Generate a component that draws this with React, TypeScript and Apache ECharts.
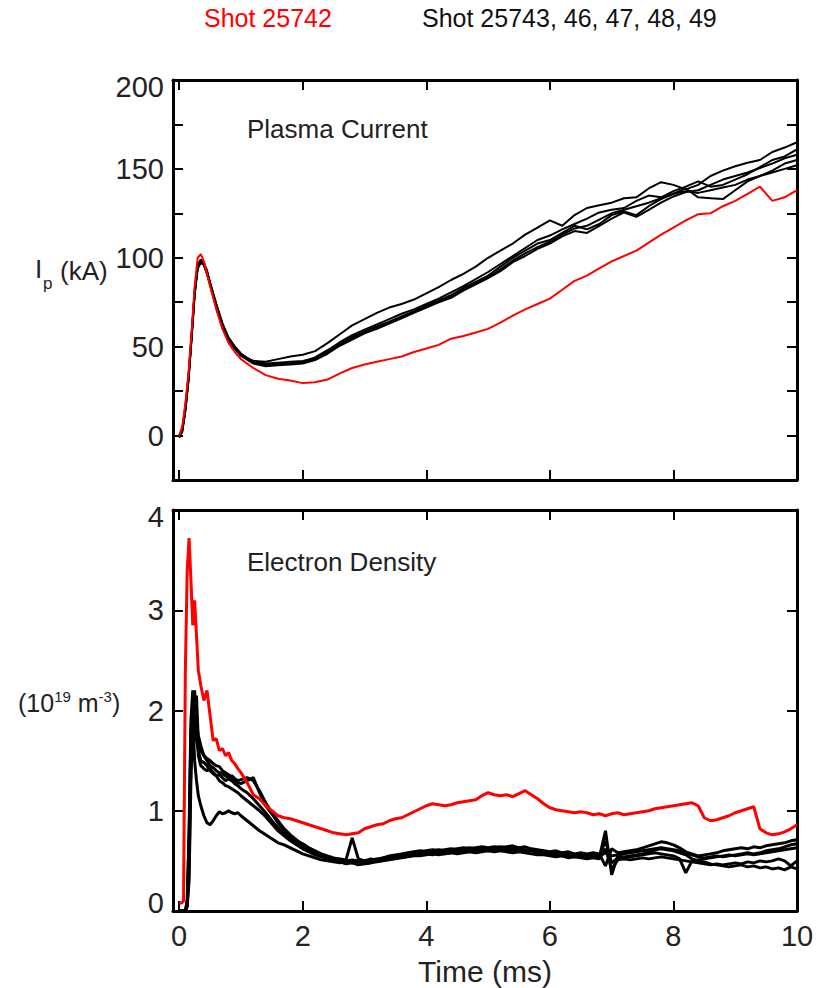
import React, { useEffect, useRef } from "react";
import * as echarts from "echarts";

// ---------- Plasma current (kA) ----------
const ipTime = [0, 0.05, 0.1, 0.15, 0.2, 0.25, 0.3, 0.35, 0.4, 0.45, 0.5, 0.6, 0.7, 0.8, 0.9, 1.0,
  1.2, 1.4, 1.6, 1.8, 2.0, 2.2, 2.4, 2.6, 2.8, 3.0, 3.2, 3.4, 3.6, 3.8, 4.0, 4.2, 4.4, 4.6, 4.8, 5.0,
  5.2, 5.4, 5.6, 5.8, 6.0, 6.2, 6.4, 6.6, 6.8, 7.0, 7.2, 7.4, 7.6, 7.8, 8.0, 8.2, 8.4, 8.6, 8.8, 9.0,
  9.2, 9.4, 9.6, 9.8, 10.0];

const ip25742 = [0, 5, 18, 35, 58, 84, 100, 102, 98, 91, 84, 71, 60, 52, 47, 43,
  38, 34, 32, 31, 29.5, 30, 31.5, 35, 38, 40, 41.5, 43, 44.5, 47, 49, 51, 54.5, 56, 58, 60,
  63.5, 67.5, 71, 74, 77, 82, 87, 90, 94, 98, 101, 104, 108.5, 113, 117, 121, 124.5, 125, 129, 132,
  136, 140, 132, 134, 138];
const ip25743 = [-1, 3, 15, 32, 55, 80, 95, 98, 96, 91, 85, 73, 62, 54, 49, 45,
  42, 41.5, 43, 44.5, 45.5, 47.5, 52, 57, 62, 65.5, 69, 72, 74, 76.5, 80, 83.5, 87.5, 91, 95, 100,
  104, 108, 113, 117, 121, 118, 124, 128, 129.5, 131, 133.5, 134, 139, 142.5, 141, 138.5, 141, 146, 149, 151.5,
  153.5, 155, 159.5, 162, 165];
const ip25746 = [-1, 3, 14, 31, 54, 79, 94, 97, 96, 92, 86, 74, 63, 55, 50, 46,
  41, 40, 40, 40.5, 41, 43, 47, 51.5, 55.5, 58.5, 61.5, 64, 67, 70, 73, 76, 79, 83, 86.5, 90,
  95, 100, 104, 108, 110, 114, 118, 116, 119, 124, 126, 124, 129, 133, 136, 139, 134, 133.5, 133, 138,
  143, 146, 148, 150, 152];
const ip25747 = [0, 4, 16, 33, 56, 81, 96, 99, 97, 92, 85, 72, 61, 54, 49, 45,
  40.5, 39, 39.5, 40, 40.5, 42.5, 46, 50.5, 54, 57.5, 60, 63, 66, 69, 72, 75, 77.5, 81.5, 85, 88.5,
  92.5, 97.5, 101, 105, 108, 112, 115, 114, 118, 122, 125.5, 123, 127, 131, 134.5, 137, 138, 141, 144, 146,
  148, 150.5, 153, 156, 158];
const ip25748 = [-1, 2, 14, 31, 55, 80, 95, 98, 97, 93, 86, 74, 63, 55, 50, 46,
  41.5, 39.5, 40, 40.5, 41.5, 44, 48, 52.5, 56.5, 59.5, 62.5, 65.5, 68.5, 71, 74, 77, 80.5, 84, 88, 92,
  96.5, 101, 105.5, 110, 112.5, 116, 119, 122, 125.5, 127, 128, 132, 135, 134, 137.5, 140, 143, 140, 141, 144,
  147, 151, 155, 157, 161];
const ip25749 = [0, 3, 15, 32, 56, 80, 95, 98, 96, 91, 85, 73, 62, 54, 49, 45,
  42, 40.5, 41, 41.5, 42, 43.5, 47.5, 51, 55, 58, 61, 63.5, 66.5, 69.5, 72.5, 75.5, 78, 82, 85.5, 89,
  93.5, 98.5, 102.5, 106, 109, 113, 116.5, 118, 121.5, 125, 127, 129, 131, 133.5, 136, 137.5, 136.5, 138, 139.5, 141,
  144, 146, 149, 153, 155];

// ---------- Electron density (10^19 m^-3) ----------
const neTime = [0, 0.04, 0.07, 0.1, 0.13, 0.16, 0.19, 0.22, 0.25, 0.28, 0.31, 0.35, 0.4, 0.45, 0.5,
  0.55, 0.6, 0.65, 0.7, 0.75, 0.8, 0.85, 0.9, 0.95, 1.0,
  1.1, 1.2, 1.3, 1.4, 1.5, 1.6, 1.7, 1.8, 1.9, 2.0,
  2.1, 2.2, 2.3, 2.4, 2.5, 2.6, 2.7, 2.8, 2.9, 3.0,
  3.1, 3.2, 3.3, 3.4, 3.5, 3.6, 3.7, 3.8, 3.9, 4.0,
  4.1, 4.2, 4.3, 4.4, 4.5, 4.6, 4.7, 4.8, 4.9, 5.0,
  5.1, 5.2, 5.3, 5.4, 5.5, 5.6, 5.7, 5.8, 5.9, 6.0,
  6.1, 6.2, 6.3, 6.4, 6.5, 6.6, 6.7, 6.8, 6.9, 7.0,
  7.1, 7.2, 7.3, 7.4, 7.5, 7.6, 7.7, 7.8, 7.9, 8.0,
  8.1, 8.2, 8.3, 8.4, 8.5, 8.6, 8.7, 8.8, 8.9, 9.0,
  9.1, 9.2, 9.3, 9.4, 9.5, 9.6, 9.7, 9.8, 9.9, 10.0];

const ne25742 = [0.08, 0.08, 0.1, 2.4, 3.4, 3.72, 3.3, 2.85, 3.1, 2.75, 2.4, 2.25, 2.1, 2.2, 1.95,
  1.7, 1.72, 1.6, 1.62, 1.55, 1.58, 1.5, 1.47, 1.42, 1.38,
  1.28, 1.16, 1.12, 1.05, 1.0, 0.95, 0.93, 0.92, 0.9, 0.88,
  0.86, 0.84, 0.82, 0.8, 0.78, 0.77, 0.76, 0.77, 0.78, 0.82,
  0.84, 0.86, 0.87, 0.9, 0.92, 0.93, 0.96, 0.99, 1.02, 1.05,
  1.07, 1.06, 1.05, 1.06, 1.08, 1.09, 1.1, 1.11, 1.15, 1.18,
  1.16, 1.15, 1.16, 1.14, 1.17, 1.2, 1.16, 1.12, 1.07, 1.03,
  1.01, 1.0, 0.99, 0.98, 0.99, 0.98, 0.96, 0.97, 0.95, 0.97,
  0.98, 0.96, 0.97, 0.98, 0.99, 1.0, 1.02, 1.03, 1.04, 1.05,
  1.06, 1.07, 1.08, 1.05, 0.93, 0.9, 0.91, 0.93, 0.95, 0.98,
  1.0, 1.02, 1.04, 0.82, 0.78, 0.76, 0.77, 0.79, 0.82, 0.86];
const ne25743 = [0, 0, 0, 0, 0.05, 0.3, 1.3, 1.9, 1.5, 1.3, 1.15, 1.05, 0.95, 0.88, 0.86,
  0.9, 0.95, 0.99, 0.97, 0.98, 1.0, 0.98, 0.97, 0.98, 0.95,
  0.9, 0.85, 0.8, 0.76, 0.72, 0.68, 0.66, 0.63, 0.6, 0.57,
  0.55, 0.53, 0.51, 0.5, 0.49, 0.48, 0.49, 0.5, 0.49, 0.5,
  0.51, 0.52, 0.53, 0.54, 0.53, 0.55, 0.56, 0.57, 0.56, 0.57,
  0.56, 0.58, 0.57, 0.58, 0.59, 0.6, 0.59, 0.6, 0.61, 0.6,
  0.61, 0.62, 0.61, 0.62, 0.61, 0.6, 0.61, 0.59, 0.58, 0.57,
  0.56, 0.55, 0.56, 0.54, 0.55, 0.54, 0.55, 0.53, 0.8, 0.36,
  0.55, 0.54, 0.55, 0.56, 0.57, 0.59, 0.61, 0.62, 0.61, 0.6,
  0.58, 0.56, 0.52, 0.5, 0.49, 0.47, 0.46, 0.45, 0.44, 0.45,
  0.46, 0.44, 0.45, 0.43, 0.44, 0.42, 0.43, 0.41, 0.44, 0.42];
const ne25746 = [0, 0, 0, 0, 0.1, 0.8, 1.9, 2.2, 1.8, 2.15, 1.7, 1.6, 1.55, 1.52, 1.5,
  1.47, 1.45, 1.44, 1.4, 1.38, 1.36, 1.33, 1.3, 1.28, 1.27,
  1.3, 1.33, 1.18, 1.05, 0.97, 0.88, 0.8, 0.74, 0.7, 0.67,
  0.63, 0.6, 0.57, 0.55, 0.53, 0.52, 0.51, 0.73, 0.52, 0.5,
  0.52, 0.51, 0.53, 0.55, 0.56, 0.57, 0.58, 0.59, 0.6, 0.59,
  0.6, 0.61, 0.6, 0.61, 0.62, 0.63, 0.62, 0.63, 0.64, 0.63,
  0.64, 0.63, 0.64, 0.65, 0.63, 0.64, 0.62, 0.61, 0.6, 0.59,
  0.6, 0.58, 0.59, 0.57, 0.58, 0.57, 0.58, 0.57, 0.45, 0.62,
  0.58, 0.59, 0.6, 0.61, 0.63, 0.65, 0.67, 0.69, 0.68, 0.66,
  0.63, 0.59, 0.57, 0.55, 0.56, 0.57, 0.58, 0.6, 0.61, 0.62,
  0.63, 0.62, 0.64, 0.63, 0.65, 0.66, 0.67, 0.68, 0.7, 0.71];
const ne25747 = [0, 0, 0, 0, 0.05, 0.6, 1.7, 2.0, 1.75, 1.9, 1.55, 1.45, 1.42, 1.4, 1.42,
  1.38, 1.35, 1.36, 1.33, 1.3, 1.32, 1.3, 1.27, 1.25, 1.22,
  1.18, 1.12, 1.05, 0.98, 0.9, 0.83, 0.77, 0.72, 0.68, 0.64,
  0.61, 0.58, 0.55, 0.53, 0.51, 0.5, 0.49, 0.48, 0.49, 0.47,
  0.48, 0.5, 0.51, 0.52, 0.54, 0.55, 0.56, 0.58, 0.57, 0.58,
  0.59, 0.58, 0.59, 0.6, 0.6, 0.61, 0.6, 0.61, 0.62, 0.61,
  0.62, 0.61, 0.6, 0.61, 0.6, 0.59, 0.6, 0.58, 0.57, 0.56,
  0.57, 0.56, 0.55, 0.56, 0.54, 0.55, 0.54, 0.55, 0.7, 0.48,
  0.53, 0.52, 0.54, 0.55, 0.56, 0.57, 0.58, 0.57, 0.56, 0.55,
  0.52, 0.38, 0.5, 0.51, 0.52, 0.53, 0.54, 0.55, 0.56, 0.55,
  0.56, 0.57, 0.56, 0.57, 0.58, 0.59, 0.6, 0.61, 0.62, 0.63];
const ne25748 = [0, 0, 0, 0, 0.05, 0.4, 1.5, 2.15, 2.0, 1.7, 1.6, 1.5, 1.48, 1.45, 1.4,
  1.37, 1.35, 1.3, 1.28, 1.25, 1.24, 1.22, 1.2, 1.18, 1.15,
  1.1, 1.05, 1.0, 0.94, 0.87, 0.8, 0.75, 0.7, 0.66, 0.62,
  0.59, 0.56, 0.54, 0.52, 0.5, 0.49, 0.47, 0.48, 0.46, 0.47,
  0.48, 0.49, 0.5, 0.51, 0.52, 0.53, 0.54, 0.55, 0.55, 0.56,
  0.57, 0.56, 0.57, 0.58, 0.57, 0.58, 0.59, 0.58, 0.59, 0.6,
  0.59, 0.6, 0.59, 0.58, 0.59, 0.58, 0.57, 0.56, 0.56, 0.55,
  0.54, 0.55, 0.53, 0.54, 0.53, 0.52, 0.53, 0.52, 0.62, 0.42,
  0.51, 0.52, 0.51, 0.52, 0.53, 0.52, 0.53, 0.54, 0.53, 0.52,
  0.51, 0.5, 0.49, 0.48, 0.47, 0.46, 0.47, 0.46, 0.47, 0.48,
  0.47, 0.49, 0.48, 0.5, 0.49, 0.5, 0.52, 0.5, 0.45, 0.5];
const ne25749 = [0, 0, 0, 0, 0.1, 0.7, 1.8, 2.05, 2.2, 1.85, 1.75, 1.65, 1.55, 1.5, 1.45,
  1.43, 1.4, 1.38, 1.37, 1.35, 1.33, 1.35, 1.32, 1.3, 1.31,
  1.33, 1.3, 1.2, 1.08, 0.98, 0.9, 0.82, 0.76, 0.71, 0.66,
  0.62, 0.59, 0.56, 0.54, 0.52, 0.51, 0.5, 0.51, 0.5, 0.49,
  0.5, 0.51, 0.52, 0.53, 0.55, 0.56, 0.57, 0.58, 0.59, 0.6,
  0.61, 0.6, 0.61, 0.62, 0.61, 0.62, 0.63, 0.62, 0.63, 0.62,
  0.63, 0.64, 0.63, 0.62, 0.62, 0.61, 0.6, 0.6, 0.59, 0.58,
  0.58, 0.57, 0.57, 0.56, 0.57, 0.56, 0.56, 0.55, 0.58, 0.55,
  0.56, 0.57, 0.58, 0.59, 0.6, 0.61, 0.62, 0.63, 0.62, 0.61,
  0.6, 0.58, 0.56, 0.54, 0.53, 0.54, 0.55, 0.54, 0.55, 0.56,
  0.57, 0.58, 0.57, 0.58, 0.6, 0.61, 0.62, 0.64, 0.66, 0.67];

const xTickValues = [0, 2, 4, 6, 8, 10];

const FONT = "'Liberation Sans', Arial, Helvetica, sans-serif";
const RED = "#ff0000";
const BLACK = "#000000";

function pairs(t: number[], v: number[]) {
  return t.map((x, i) => [x, v[i]]);
}

export default function App() {
  const ref = useRef<HTMLDivElement>(null);

  useEffect(() => {
    if (!ref.current) return;
    const chart = echarts.init(ref.current, null, { renderer: "svg" });

    const axisLine = { show: true, onZero: false, lineStyle: { color: "#000", width: 3 } };
    const tick = { show: true, inside: true, length: 10, lineStyle: { color: "#000", width: 2 } };

    const xAxisFor = (gridIndex: number, position: string, showLabel: boolean) => ({
      type: "value",
      gridIndex,
      position,
      min: -0.1,
      max: 10,
      axisLine,
      axisTick: { ...tick, customValues: xTickValues },
      axisLabel: {
        show: showLabel,
        customValues: xTickValues,
        fontSize: 29,
        color: "#222",
        fontFamily: FONT,
        margin: 10,
      },
      splitLine: { show: false },
    });

    const yIp = (position: string, showLabel: boolean) => ({
      type: "value",
      gridIndex: 0,
      position,
      min: -25,
      max: 200,
      interval: 25,
      axisLine,
      axisTick: tick,
      axisLabel: {
        show: showLabel,
        fontSize: 29,
        color: "#222",
        fontFamily: FONT,
        margin: 9,
        formatter: (v: number) => (v % 50 === 0 ? (v === 200 ? "{t|200}" : String(v)) : ""),
        rich: { t: { fontSize: 29, color: "#222", fontFamily: FONT, padding: [14, 0, 0, 0] } },
      },
      splitLine: { show: false },
    });

    const yNe = (position: string, showLabel: boolean) => ({
      type: "value",
      gridIndex: 1,
      position,
      min: 0,
      max: 4,
      interval: 1,
      axisLine,
      axisTick: tick,
      axisLabel: {
        show: showLabel,
        fontSize: 29,
        color: "#222",
        fontFamily: FONT,
        margin: 9,
        formatter: (v: number) => (v === 4 ? "{t|4}" : v === 0 ? "{b|0}" : String(v)),
        rich: {
          t: { fontSize: 29, color: "#222", fontFamily: FONT, padding: [14, 0, 0, 0] },
          b: { fontSize: 29, color: "#222", fontFamily: FONT, padding: [0, 0, 16, 0] },
        },
      },
      splitLine: { show: false },
    });

    const lineSeries = (name: string, data: number[][], color: string, axis: number, width: number) => ({
      name,
      type: "line",
      xAxisIndex: axis,
      yAxisIndex: axis,
      data,
      showSymbol: false,
      symbol: "none",
      lineStyle: { color, width },
      itemStyle: { color },
      emphasis: { disabled: true },
      z: color === RED ? 3 : 2,
    });

    const txt = (text: string, x: number, y: number, size: number, fill = "#222") => ({
      type: "text",
      x,
      y,
      style: { text, fill, fontSize: size, fontFamily: FONT, align: "left", verticalAlign: "middle" },
    });

    chart.setOption({
      animation: false,
      backgroundColor: "#ffffff",
      grid: [
        { left: 173, top: 80, width: 624, height: 400, outerBoundsMode: "none", containLabel: false },
        { left: 173, top: 510, width: 624, height: 401, outerBoundsMode: "none", containLabel: false },
      ],
      xAxis: [
        xAxisFor(0, "bottom", false),
        xAxisFor(0, "top", false),
        xAxisFor(1, "bottom", true),
        xAxisFor(1, "top", false),
      ],
      yAxis: [
        yIp("left", true),
        yIp("right", false),
        yNe("left", true),
        yNe("right", false),
      ],
      series: [
        lineSeries("Shot 25743", pairs(ipTime, ip25743), BLACK, 0, 2),
        lineSeries("Shot 25746", pairs(ipTime, ip25746), BLACK, 0, 2),
        lineSeries("Shot 25747", pairs(ipTime, ip25747), BLACK, 0, 2),
        lineSeries("Shot 25748", pairs(ipTime, ip25748), BLACK, 0, 2),
        lineSeries("Shot 25749", pairs(ipTime, ip25749), BLACK, 0, 2),
        lineSeries("Shot 25742", pairs(ipTime, ip25742), RED, 0, 2),
        lineSeries("Shot 25743 ne", pairs(neTime, ne25743), BLACK, 2, 3),
        lineSeries("Shot 25746 ne", pairs(neTime, ne25746), BLACK, 2, 3),
        lineSeries("Shot 25747 ne", pairs(neTime, ne25747), BLACK, 2, 3),
        lineSeries("Shot 25748 ne", pairs(neTime, ne25748), BLACK, 2, 3),
        lineSeries("Shot 25749 ne", pairs(neTime, ne25749), BLACK, 2, 3),
        lineSeries("Shot 25742 ne", pairs(neTime, ne25742), RED, 2, 3),
      ],
      graphic: [
        txt("Shot 25742", 204, 18, 25, RED),
        txt("Shot 25743, 46, 47, 48, 49", 422, 18, 25, "#111"),
        txt("Plasma Current", 247, 129, 26),
        txt("Electron Density", 247, 562, 26),
        txt("I", 35, 269, 26),
        txt("p", 43, 283, 17),
        txt("(kA)", 60, 271, 26),
        {
          type: "text",
          x: 18,
          y: 703,
          style: {
            text: "{n|(10}{s|19}{n| m}{s|-3}{n|)}",
            fill: "#222",
            fontFamily: FONT,
            fontSize: 25,
            align: "left",
            verticalAlign: "middle",
            rich: {
              n: { fontSize: 25, lineHeight: 28, fontFamily: FONT, fill: "#222", verticalAlign: "middle" },
              s: { fontSize: 15, lineHeight: 15, fontFamily: FONT, fill: "#222", verticalAlign: "top" },
            },
          },
        },
        { type: "text", x: 485, y: 971, style: { text: "Time (ms)", fill: "#222", fontSize: 30, fontFamily: FONT, align: "center", verticalAlign: "middle" } },
      ],
    });

    return () => chart.dispose();
  }, []);

  return (
    <div
      ref={ref}
      style={{ position: "fixed", left: 0, top: 0, width: 822, height: 988, background: "#fff" }}
    />
  );
}
